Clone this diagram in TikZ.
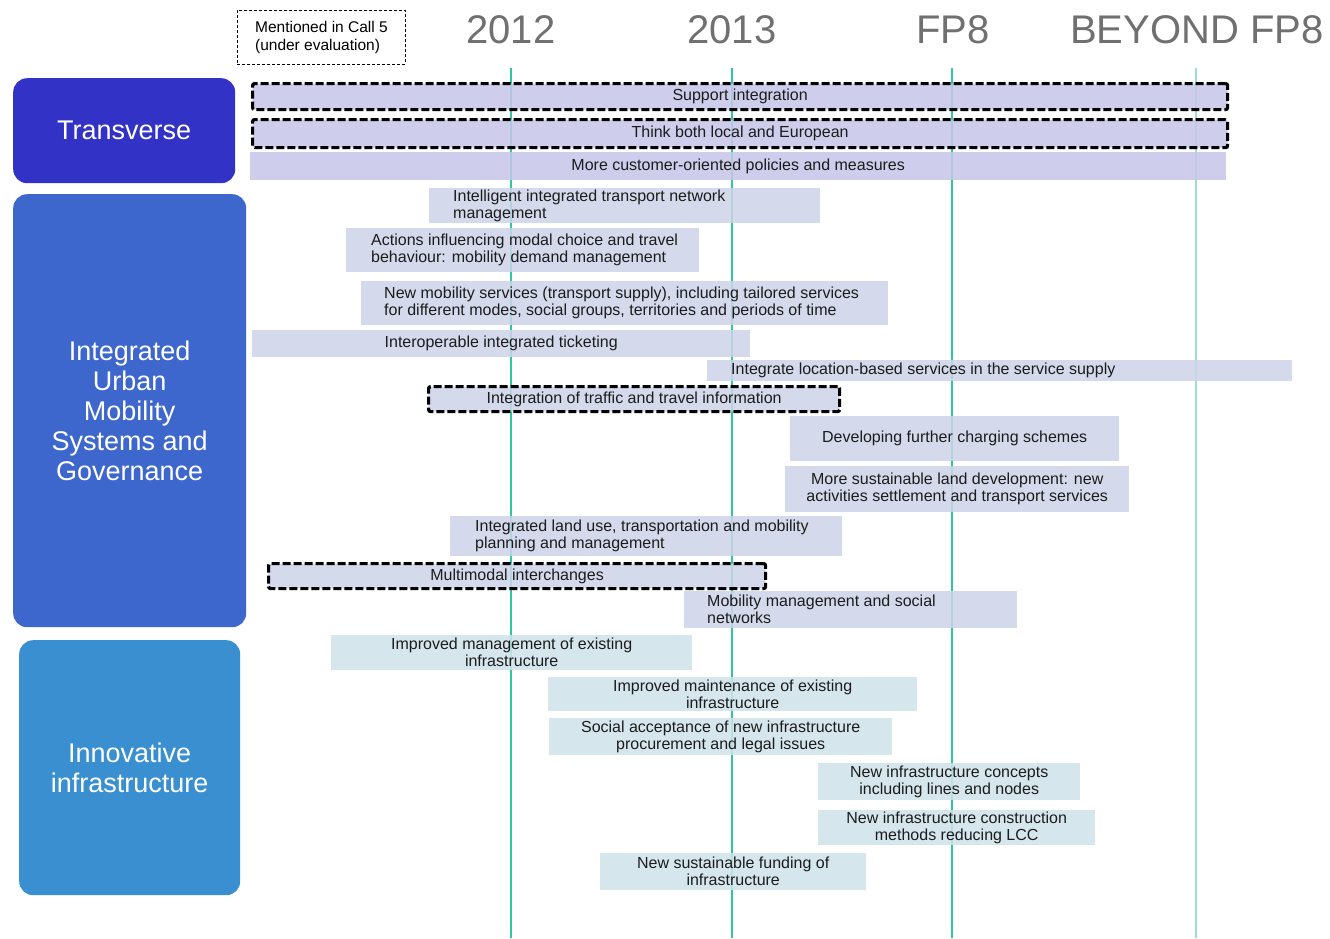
\documentclass[tikz,border=0pt]{standalone}
\usepackage{fontspec}
\setmainfont{Liberation Sans}
\definecolor{yeargray}{HTML}{707070}
\definecolor{timeline}{HTML}{2FC6A2}
\definecolor{timelinelight}{HTML}{9EDFCC}
\definecolor{catA}{HTML}{3232C6}
\definecolor{catB}{HTML}{3D67CD}
\definecolor{catC}{HTML}{3A8FD0}
\definecolor{transfill}{HTML}{C7C7EA}
\definecolor{urbanfill}{HTML}{CDD5E9}
\definecolor{infrafill}{HTML}{D0E3EB}
\definecolor{bartext}{HTML}{1C1C1C}
\begin{document}
\begin{tikzpicture}[x=1pt,y=-1pt,
  cat/.style={anchor=north west, rounded corners=14pt, text=white, align=center,
    inner sep=0pt, font=\fontsize{27}{30}\selectfont},
  year/.style={text=yeargray, inner sep=0pt, font=\fontsize{40}{40}\selectfont},
  bar/.style={anchor=north west, inner sep=0pt, align=center, text=bartext,
    fill opacity=0.86, text opacity=1, font=\fontsize{16}{17}\selectfont},
  tbar/.style={bar, fill=transfill},
  ubar/.style={bar, fill=urbanfill},
  ibar/.style={bar, fill=infrafill},
  bartxt/.style={anchor=west, inner sep=0pt, align=left, text=bartext,
    font=\fontsize{16}{17}\selectfont},
  call/.style={draw=black, draw opacity=1, line width=3.2pt, dash pattern=on 8pt off 3pt,
    rounded corners=2pt},
  tl/.style={draw=timeline, line width=2.6pt},
]
\useasboundingbox[fill=white] (0,0) rectangle (1330,938);

% column headings
\node[year] (h2012) at (511,30) {2012};
\node[year] (h2013) at (732,30) {2013};
\node[year] (hfp8) at (953,30) {FP8};
\node[year] (hbeyond) at (1197,30) {BEYOND FP8};

% legend
\node[anchor=north west, draw=black, line width=0.9pt, dash pattern=on 3pt off 2pt,
  minimum width=168pt, minimum height=54pt, inner sep=0pt, align=left,
  font=\fontsize{15.5}{18}\selectfont] (legend) at (237,10)
  {Mentioned in Call 5\\(under evaluation)};

% timeline markers
\coordinate (t2012a) at (511,68);  \coordinate (t2012b) at (511,938);
\coordinate (t2013a) at (732,68);  \coordinate (t2013b) at (732,938);
\coordinate (tfp8a) at (952,68);   \coordinate (tfp8b) at (952,938);
\coordinate (tbeya) at (1196,68);  \coordinate (tbeyb) at (1196,938);
\draw[tl] (t2012a) -- (t2012b);
\draw[tl] (t2013a) -- (t2013b);
\draw[tl] (tfp8a) -- (tfp8b);
\draw[tl, draw=timelinelight] (tbeya) -- (tbeyb);

% themes
\node[cat, fill=catA, minimum width=222pt, minimum height=105pt] (transverse) at (13,78) {Transverse};
\node[cat, fill=catB, minimum width=233pt, minimum height=433pt] (urban) at (13,194)
  {Integrated\\Urban\\Mobility\\Systems and\\Governance};
\node[cat, fill=catC, minimum width=221pt, minimum height=255pt] (infra) at (19,640)
  {Innovative\\infrastructure};

% transverse actions
\node[tbar, call, minimum width=975pt, minimum height=26pt] (b1) at (251,82) {Support integration};
\node[tbar, call, minimum width=975pt, minimum height=28pt] (b2) at (251,118) {Think both local and European};
\node[tbar, minimum width=976pt, minimum height=28pt] (b3) at (250,152) {More customer-oriented policies and measures};

% integrated urban mobility actions
\node[ubar, minimum width=391pt, minimum height=35pt] (b4) at (429,188) {};
\node[bartxt] (b4t) at ([xshift=24pt]b4.west) {Intelligent integrated transport network\\management};
\node[ubar, minimum width=353pt, minimum height=44pt] (b5) at (346,228) {};
\node[bartxt] (b5t) at ([xshift=25pt]b5.west) {Actions influencing modal choice and travel\\behaviour: mobility demand management};
\node[ubar, minimum width=527pt, minimum height=44pt] (b6) at (361,281) {};
\node[bartxt] (b6t) at ([xshift=23pt]b6.west) {New mobility services (transport supply), including tailored services\\for different modes, social groups, territories and periods of time};
\node[ubar, minimum width=498pt, minimum height=27pt] (b7) at (252,330) {Interoperable integrated ticketing};
\node[ubar, minimum width=585pt, minimum height=21pt] (b8) at (707,360) {};
\node[bartxt] (b8t) at ([xshift=24pt]b8.west) {Integrate location-based services in the service supply};
\node[ubar, call, minimum width=411pt, minimum height=25pt] (b9) at (427,385) {Integration of traffic and travel information};
\node[ubar, minimum width=329pt, minimum height=45pt] (b10) at (790,416) {Developing further charging schemes};
\node[ubar, minimum width=344pt, minimum height=46pt] (b11) at (785,466) {More sustainable land development: new\\activities settlement and transport services};
\node[ubar, minimum width=392pt, minimum height=40pt] (b12) at (450,516) {};
\node[bartxt] (b12t) at ([xshift=25pt]b12.west) {Integrated land use, transportation and mobility\\planning and management};
\node[ubar, call, minimum width=497pt, minimum height=25pt] (b13) at (267,562) {Multimodal interchanges};
\node[ubar, minimum width=333pt, minimum height=37pt] (b14) at (684,591) {};
\node[bartxt] (b14t) at ([xshift=23pt]b14.west) {Mobility management and social\\networks};

% infrastructure actions
\node[ibar, minimum width=361pt, minimum height=35pt] (b15) at (331,635) {Improved management of existing\\infrastructure};
\node[ibar, minimum width=369pt, minimum height=34pt] (b16) at (548,677) {Improved maintenance of existing\\infrastructure};
\node[ibar, minimum width=343pt, minimum height=37pt] (b17) at (549,718) {Social acceptance of new infrastructure\\procurement and legal issues};
\node[ibar, minimum width=262pt, minimum height=37pt] (b18) at (818,763) {New infrastructure concepts\\including lines and nodes};
\node[ibar, minimum width=277pt, minimum height=35pt] (b19) at (818,810) {New infrastructure construction\\methods reducing LCC};
\node[ibar, minimum width=266pt, minimum height=37pt] (b20) at (600,853) {New sustainable funding of\\infrastructure};
\end{tikzpicture}
\end{document}
